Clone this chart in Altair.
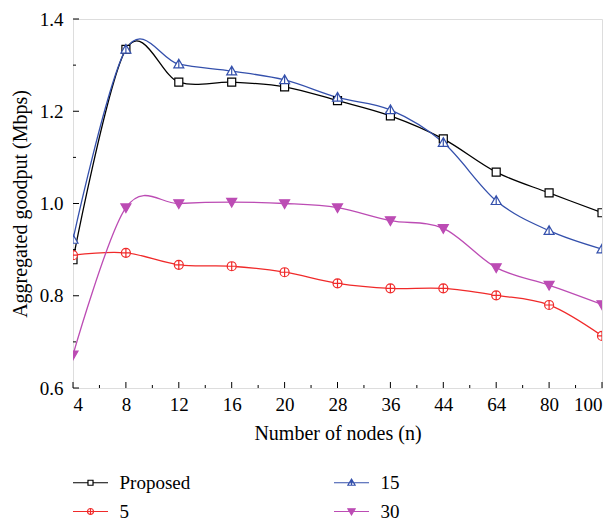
import altair as alt
import pandas as pd

# ---- data ----
x_labels = ["4", "8", "12", "16", "20", "28", "36", "44", "64", "80", "100"]
series_names = ["Proposed", "15", "5", "30"]
proposed = [0.878, 1.334, 1.263, 1.263, 1.253, 1.223, 1.190, 1.140, 1.068, 1.023, 0.980]
s15 = [0.922, 1.334, 1.302, 1.287, 1.268, 1.230, 1.203, 1.132, 1.006, 0.941, 0.901]
s5 = [0.888, 0.893, 0.867, 0.864, 0.851, 0.827, 0.816, 0.816, 0.801, 0.780, 0.713]
s30 = [0.672, 0.991, 1.000, 1.003, 1.000, 0.991, 0.963, 0.946, 0.861, 0.823, 0.781]
y_major = [0.6, 0.8, 1.0, 1.2, 1.4]
y_minor = [0.7, 0.9, 1.1, 1.3]
x_major = list(range(len(x_labels)))
x_minor = [i + 0.5 for i in range(len(x_labels) - 1)]

# ---- styles ----
colors = ["#000000", "#3450AC", "#F02A2A", "#BC4CB4"]
fills = ["#ffffff", "#ffffff", "#ffffff", "#BC4CB4"]
marker_paths = [
    "M-0.8,-0.8L0.8,-0.8L0.8,0.8L-0.8,0.8Z",
    "M0,-1L1,0.75L-1,0.75Z M0,-1L0,0.75",
    "M0.9,0A0.9,0.9 0 1,1 -0.9,0A0.9,0.9 0 1,1 0.9,0Z M-0.9,0L0.9,0 M0,-0.9L0,0.9",
    "M-1,-0.75L1,-0.75L0,1Z",
]
legend_paths = [
    "M-2.92,0L-0.42,0M0.42,0L2.92,0M-0.42,-0.42L0.42,-0.42L0.42,0.42L-0.42,0.42Z",
    "M-2.92,0L2.92,0M0,-0.6L0.6,0.42L-0.6,0.42Z M0,-0.6L0,0.42",
    "M-2.92,0L2.92,0M0.5,0A0.5,0.5 0 1,1 -0.5,0A0.5,0.5 0 1,1 0.5,0Z M0,-0.5L0,0.5",
    "M-2.92,0L2.92,0M-0.6,-0.45L0.6,-0.45L0,0.55Z",
]

W, H = 529, 369
FONT = "Liberation Serif"

rows = []
for name, vals in zip(series_names, [proposed, s15, s5, s30]):
    for i, v in enumerate(vals):
        rows.append({"idx": i, "series": name, "value": v})
df = pd.DataFrame(rows)

label_expr = "[" + ",".join("'%s'" % l for l in x_labels) + "][datum.value]"
xscale = alt.Scale(domain=[0, len(x_labels) - 1], nice=False, zero=False)
yscale = alt.Scale(domain=[0.6, 1.4], nice=False, zero=False)

x_axis = alt.Axis(
    orient="bottom", values=x_major, labelExpr=label_expr,
    ticks=False, domain=False, grid=False, labelFont=FONT, labelFontSize=19,
    labelColor="#000", labelPadding=7, title="Number of nodes (n)",
    titleFont=FONT, titleFontSize=20, titleFontWeight="normal", titleColor="#000",
    titlePadding=9)
y_axis = alt.Axis(
    orient="left", values=y_major, format=".1f", ticks=False, domain=False,
    grid=False, labelFont=FONT, labelFontSize=19, labelColor="#000",
    labelPadding=10, title="Aggregated goodput (Mbps)", titleFont=FONT,
    titleFontSize=20, titleFontWeight="normal", titleColor="#000",
    titlePadding=9)

def X(field):
    return alt.X(field, scale=xscale, axis=x_axis, title="Number of nodes (n)")

def Y(field):
    return alt.Y(field, scale=yscale, axis=y_axis, title="Aggregated goodput (Mbps)")

base = alt.Chart(df)

lines = base.mark_line(interpolate="cardinal", strokeWidth=1.3, clip=True).encode(
    x=X("idx:Q"), y=Y("value:Q"),
    color=alt.Color("series:N", scale=alt.Scale(domain=series_names, range=colors), legend=None),
)

markers = base.mark_point(size=100, strokeWidth=1.2, opacity=1, clip=True).encode(
    x=X("idx:Q"), y=Y("value:Q"),
    stroke=alt.Stroke("series:N", scale=alt.Scale(domain=series_names, range=colors), legend=None),
    fill=alt.Fill("series:N", scale=alt.Scale(domain=series_names, range=fills), legend=None),
    shape=alt.Shape("series:N", scale=alt.Scale(domain=series_names, range=marker_paths), legend=None),
)

# inward ticks (major and minor) along bottom and left edges
def xticks(vals, length):
    return alt.Chart(pd.DataFrame({"idx": vals})).mark_rule(color="#000", strokeWidth=1).encode(
        x=X("idx:Q"), y=alt.value(H), y2=alt.value(H - length))

def yticks(vals, length):
    return alt.Chart(pd.DataFrame({"value": vals})).mark_rule(color="#000", strokeWidth=1).encode(
        y=Y("value:Q"), x=alt.value(0), x2=alt.value(length))

leg = alt.Legend(
    title=None, orient="none", legendX=8, legendY=454, columns=2,
    direction="horizontal", symbolSize=144, symbolStrokeWidth=1.2,
    labelFont=FONT, labelFontSize=19, labelColor="#000", labelOffset=19.5,
    columnPadding=140, rowPadding=9,
)

legend_layer = base.transform_filter("false").mark_point(size=144, opacity=1).encode(
    x=X("idx:Q"), y=Y("value:Q"),
    stroke=alt.Stroke("series:N", scale=alt.Scale(domain=series_names, range=colors), legend=leg),
    fill=alt.Fill("series:N", scale=alt.Scale(domain=series_names, range=fills), legend=leg),
    shape=alt.Shape("series:N", scale=alt.Scale(domain=series_names, range=legend_paths), legend=leg),
)

chart = alt.layer(
    lines, markers,
    xticks(x_major, 6), xticks(x_minor, 3),
    yticks(y_major, 6), yticks(y_minor, 3),
    legend_layer,
).resolve_scale(
    shape="independent", stroke="independent", fill="independent"
).resolve_legend(
    shape="independent", stroke="independent", fill="independent"
).properties(
    width=W, height=H,
    autosize=alt.AutoSizeParams(type="none"),
    padding={"left": 73, "top": 19, "right": 616 - 73 - W, "bottom": 524 - 19 - H},
).configure_view(
    stroke="#000", strokeWidth=1.2
).configure(background="white")

chart.save("out.html", embed_options={"renderer": "svg", "actions": False})
